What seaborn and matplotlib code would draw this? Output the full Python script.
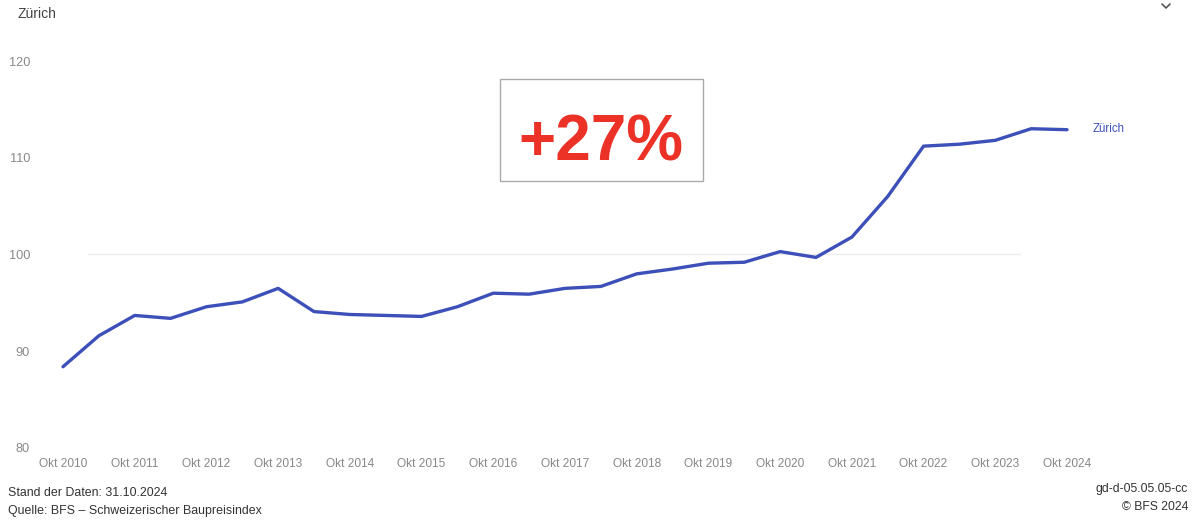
import matplotlib
matplotlib.use("Agg")
import matplotlib.pyplot as plt
import seaborn as sns
import pandas as pd
import numpy as np

# ---- data ----
periods = [
    "Okt 2010", "Apr 2011", "Okt 2011", "Apr 2012", "Okt 2012", "Apr 2013",
    "Okt 2013", "Apr 2014", "Okt 2014", "Apr 2015", "Okt 2015", "Apr 2016",
    "Okt 2016", "Apr 2017", "Okt 2017", "Apr 2018", "Okt 2018", "Apr 2019",
    "Okt 2019", "Apr 2020", "Okt 2020", "Apr 2021", "Okt 2021", "Apr 2022",
    "Okt 2022", "Apr 2023", "Okt 2023", "Apr 2024", "Okt 2024",
]
zurich = [
    88.4, 91.6, 93.7, 93.4, 94.6, 95.1,
    96.5, 94.1, 93.8, 93.7, 93.6, 94.6,
    96.0, 95.9, 96.5, 96.7, 98.0, 98.5,
    99.1, 99.2, 100.3, 99.7, 101.8, 106.0,
    111.2, 111.4, 111.8, 113.0, 112.9,
]
xtick_labels = [f"Okt {y}" for y in range(2010, 2025)]
yticks = [80, 90, 100, 110, 120]
series_name = "Zürich"
badge = "+27%"

def to_num(p):
    m, y = p.split()
    return int(y) + (0.75 if m == "Okt" else 0.25)

df = pd.DataFrame({"t": [to_num(p) for p in periods], "v": zurich})

sns.set_theme(style="white")
plt.rcParams["font.family"] = ["Liberation Sans", "DejaVu Sans"]

W, H = 1201, 521
fig = plt.figure(figsize=(W / 100, H / 100), dpi=100)
fig.patch.set_facecolor("white")

# axes: x from px 30 to 1180, y from px 61 (120) to 448 (80)
ax_l, ax_r, ax_t, ax_b = 30, 1180, 61, 448
ax = fig.add_axes([ax_l / W, 1 - ax_b / H, (ax_r - ax_l) / W, (ax_b - ax_t) / H])
ax.set_facecolor("none")
pxy = (1067 - 63) / 14.0
x0 = 2010.75 - (63 - ax_l) / pxy
x1 = 2024.75 + (ax_r - 1067) / pxy
ax.set_xlim(x0, x1)
ax.set_ylim(80, 120)

# faint reference line at 100
ax.plot([2011.1, 2024.1], [100, 100], color="#ececec", lw=1.0, zorder=1)

line_color = "#3d4fb8"
sns.lineplot(data=df, x="t", y="v", ax=ax, color=line_color, lw=2.4, zorder=3)

ax.text(df["t"].iloc[-1] + 0.36, df["v"].iloc[-1] + 0.1, series_name,
        color=line_color, fontsize=8.3, va="center", ha="left")

for s in ax.spines.values():
    s.set_visible(False)
ax.set_xlabel("")
ax.set_ylabel("")
ax.set_xticks([2010.75 + i for i in range(len(xtick_labels))])
ax.set_xticklabels(xtick_labels, fontsize=8.6, color="#888888")
ax.set_yticks(yticks)
ax.set_yticklabels([str(v) for v in yticks], fontsize=9.2, color="#888888")
ax.tick_params(axis="x", length=0, pad=7)
ax.tick_params(axis="y", length=0, pad=0)
for lab in ax.get_yticklabels():
    lab.set_horizontalalignment("right")

# title
fig.text(18 / W, 1 - 14 / H, series_name, fontsize=10, color="#444444",
         ha="left", va="center")

# chevron
fig.add_artist(plt.Line2D([1162 / W, 1166 / W, 1170 / W],
                          [1 - 4 / H, 1 - 8 / H, 1 - 4 / H],
                          color="#555555", lw=1.2))

# +27% badge
box = plt.Rectangle((500 / W, 1 - 181 / H), 203 / W, 102 / H,
                    transform=fig.transFigure, facecolor="white",
                    edgecolor="#aaaaaa", lw=1.0, zorder=5)
fig.add_artist(box)
fig.text(601 / W, 1 - 161 / H, badge, fontsize=46, fontweight="bold",
         color="#ec3127", ha="center", va="baseline", zorder=6)

# footer
fig.text(8 / W, 1 - 493 / H, "Stand der Daten: 31.10.2024", fontsize=8.9,
         color="#333333", ha="left", va="center")
fig.text(8 / W, 1 - 511 / H, "Quelle: BFS – Schweizerischer Baupreisindex",
         fontsize=8.9, color="#333333", ha="left", va="center")
fig.text(1188 / W, 1 - 489 / H, "gd-d-05.05.05-cc", fontsize=8.7,
         color="#333333", ha="right", va="center")
fig.text(1188 / W, 1 - 507 / H, "© BFS 2024", fontsize=8.7,
         color="#333333", ha="right", va="center")

fig.savefig("out.png", dpi=100, facecolor="white")
